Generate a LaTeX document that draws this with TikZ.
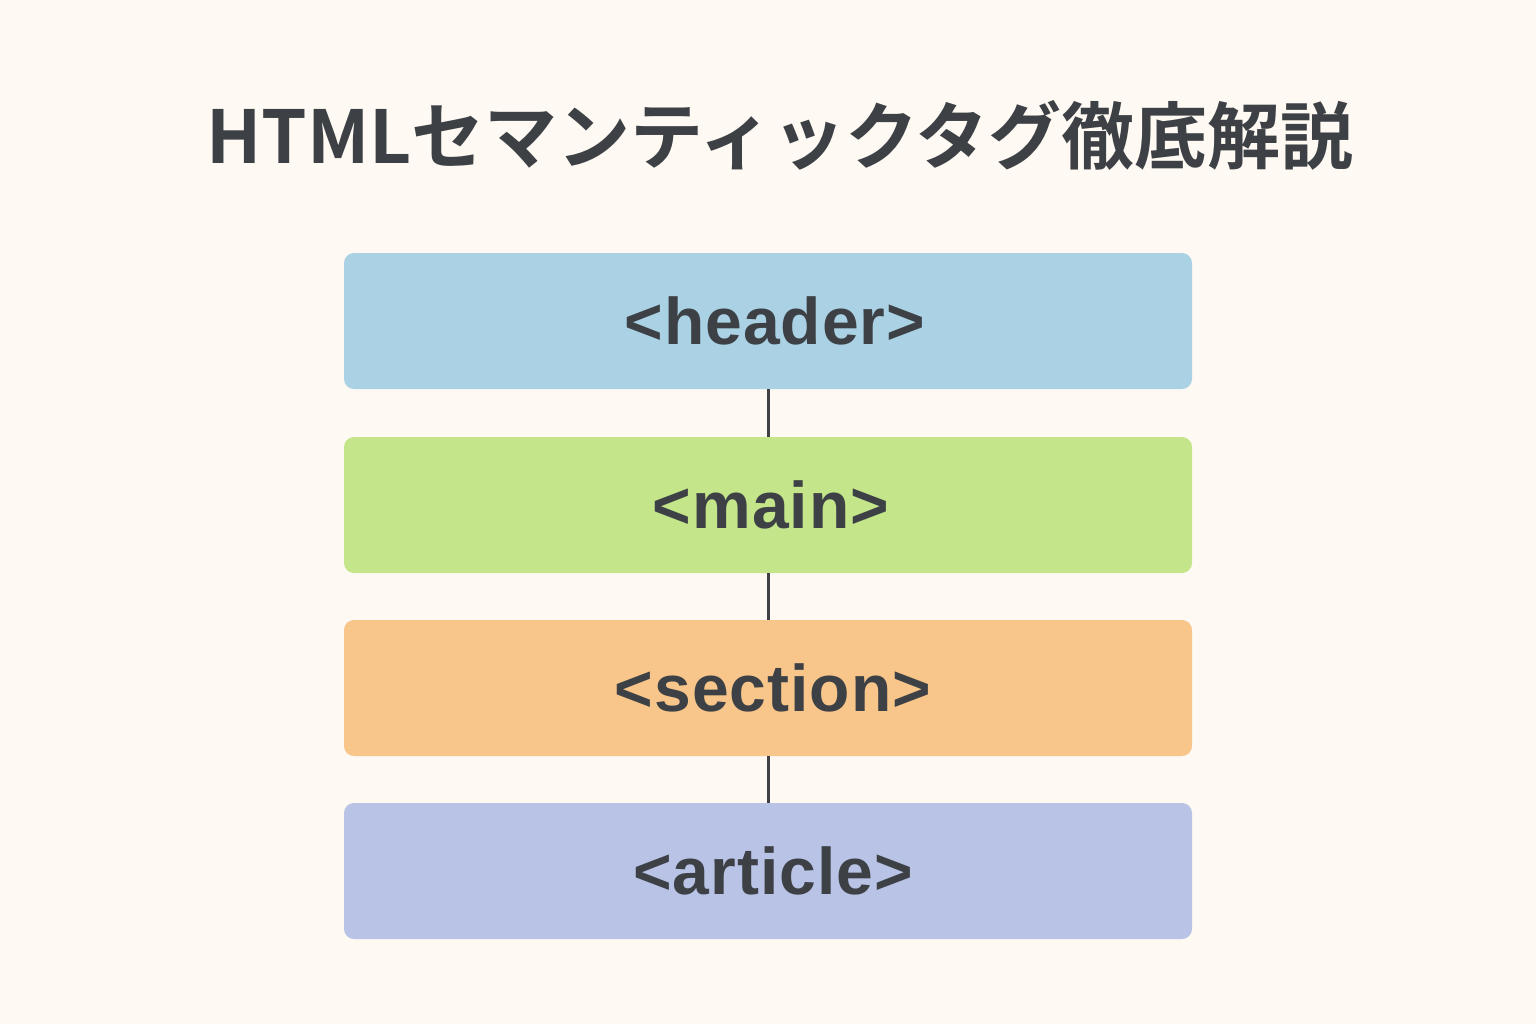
\documentclass[tikz,border=0pt]{standalone}
\usepackage{fontspec}
\setmainfont{Liberation Sans}
\newfontfamily\labfont{Liberation Sans}[LetterSpace=1.5]
\newfontfamily\cjk{Noto Sans CJK JP}[BoldFont={* Bold}]
\definecolor{bgc}{HTML}{FEFAF3}
\definecolor{txt}{HTML}{3D4146}
\definecolor{hdr}{HTML}{AAD2E4}
\definecolor{mnc}{HTML}{C4E58A}
\definecolor{sec}{HTML}{F8C68A}
\definecolor{art}{HTML}{B9C3E6}
\begin{document}
\begin{tikzpicture}[x=0.5pt,y=-0.5pt,
  tagbox/.style={rounded corners=5pt,minimum width=424pt,minimum height=68pt,inner sep=0pt,fill=#1},
  taglabel/.style={text=txt,font=\labfont\fontsize{33}{36}\selectfont\bfseries},
  link/.style={draw=txt,line width=1.5pt}]
\fill[bgc] (0,0) rectangle (1536,1024);
\useasboundingbox (0,0) rectangle (1536,1024);
\node[text=txt,font=\cjk\bfseries\fontsize{36.5}{42}\selectfont] (title) at (780,135) {HTMLセマンティックタグ徹底解説};
\node[tagbox=hdr] (h) at (768,321) {};
\node[tagbox=mnc] (m) at (768,505) {};
\node[tagbox=sec] (s) at (768,688) {};
\node[tagbox=art] (a) at (768,871) {};
\node[taglabel] (ht) at (775,321) {<header>};
\node[taglabel] (mt) at (771,505) {<main>};
\node[taglabel] (st) at (773,688) {<section>};
\node[taglabel] (at) at (773,871) {<article>};
\draw[link] (h.south) -- (m.north);
\draw[link] (m.south) -- (s.north);
\draw[link] (s.south) -- (a.north);
\end{tikzpicture}
\end{document}
